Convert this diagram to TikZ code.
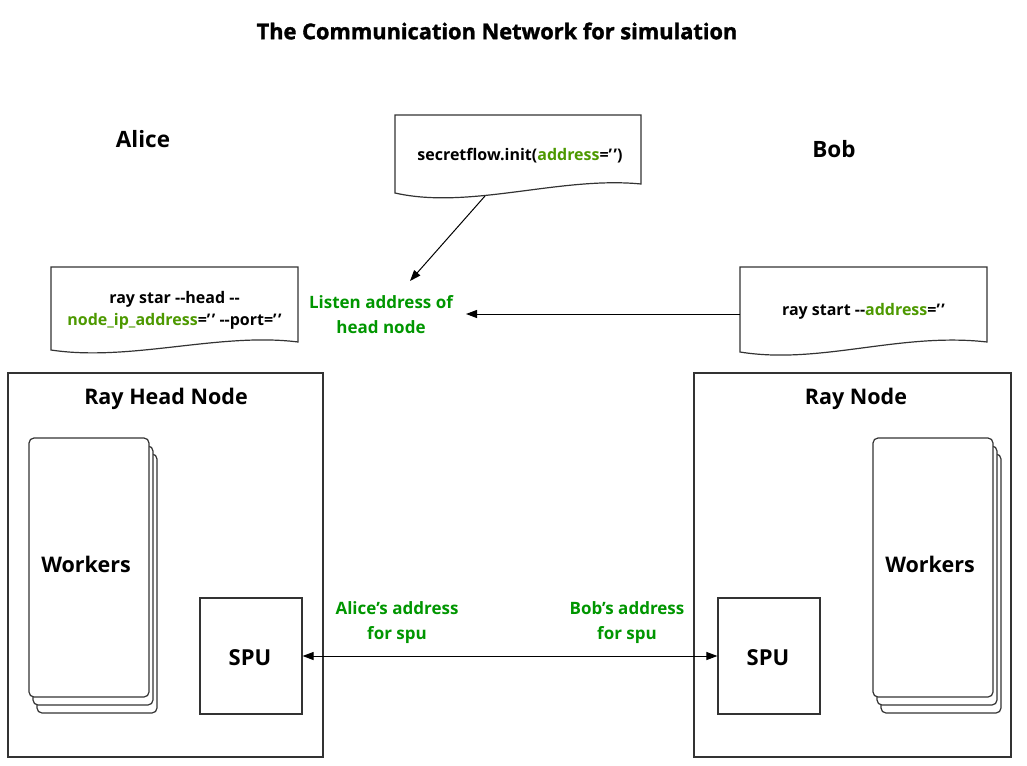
\documentclass[tikz,border=0pt]{standalone}
\usepackage{fontspec}
\setmainfont{Open Sans}
\newfontfamily\titlefont{Open Sans}[BoldFeatures={FakeBold=1.5}]
\usetikzlibrary{arrows.meta,calc}
\definecolor{lblgreen}{RGB}{0,150,0}
\definecolor{codegreen}{RGB}{77,153,0}
\definecolor{linegray}{RGB}{51,51,51}
\newcommand\dd{-\kern0pt-}
\newcommand\qq{\char"2019\kern1.5pt\char"2019}
\tikzset{
  box/.style={draw=linegray, line width=1.2pt, fill=white, inner sep=0pt},
  lbl/.style={font=\bfseries\fontsize{21.5}{25}\selectfont, text=black, inner sep=0pt},
  code/.style={font=\bfseries\fontsize{16}{22}\selectfont, align=center, inner sep=0pt},
  glabel/.style={font=\bfseries\fontsize{17}{25}\selectfont, text=lblgreen, align=center, inner sep=0pt},
  doc/.style={draw=linegray, line width=1.2pt, fill=white},
  conn/.style={draw=black, line width=1pt, -{Triangle[length=11pt,width=8pt]}},
  worker/.style={box, rounded corners=5pt, minimum width=120pt, minimum height=259pt},
  spubox/.style={box, minimum width=102pt, minimum height=116pt},
  bigbox/.style={box, fill=none, minimum height=384pt},
}
\begin{document}
\begin{tikzpicture}[x=1pt,y=-1pt]
\useasboundingbox (0,0) rectangle (1027,765);

% title and party names
\node[lbl, font=\titlefont\bfseries\fontsize{21.8}{26}\selectfont] (title) at (497,31) {The Communication Network for simulation};
\node[lbl, font=\bfseries\fontsize{22.5}{26}\selectfont] (alice) at (143,139) {Alice};
\node[lbl, font=\bfseries\fontsize{22.5}{26}\selectfont] (bob) at (834,149) {Bob};

% big boxes
\node[bigbox, minimum width=315pt] (headbox) at (165.5,565) {};
\node[lbl] (headlbl) at (166,398.5) {Ray Head Node};
\node[bigbox, minimum width=317pt] (raybox) at (852.5,565) {};
\node[lbl] (raylbl) at (856,398.5) {Ray Node};

% workers left
\node[worker] (wA3) at (97,583.5) {};
\node[worker] (wA2) at (93,575.5) {};
\node[worker] (wA) at (89,567.5) {};
\node[lbl] (wAlbl) at (86,564) {Workers};
% workers right
\node[worker] (wB3) at (941,583.5) {};
\node[worker] (wB2) at (937,575.5) {};
\node[worker] (wB) at (933,567.5) {};
\node[lbl] (wBlbl) at (930,564) {Workers};

% SPUs
\node[spubox] (spuA) at (251,656) {};
\node[spubox] (spuB) at (769,656) {};
\node[lbl, font=\bfseries\fontsize{22}{26}\selectfont] (spuAlbl) at (250,658) {SPU};
\node[lbl, font=\bfseries\fontsize{22}{26}\selectfont] (spuBlbl) at (768,658) {SPU};

% documents
\draw[doc] (395,115) -- (641,115) -- (641,184) .. controls (560,176) and (470,210) .. (395,193) -- cycle;
\node[code] (initdoc) at (520,156) {secretflow.init(\textcolor{codegreen}{address}=\qq)};

\draw[doc] (51,267) -- (298,267) -- (298,342) .. controls (220,332) and (130,362) .. (51,350) -- cycle;
\node[code] (headdoc) at (174.5,310) {ray star \dd head \dd\\\textcolor{codegreen}{node\_ip\_address}=\qq{} \dd port=\qq};

\draw[doc] (740,267) -- (987,267) -- (987,342) .. controls (900,332) and (820,365) .. (740,352) -- cycle;
\node[code] (raydoc) at (863.5,311) {ray start \dd\textcolor{codegreen}{address}=\qq};

% green labels
\node[glabel] (listen) at (381,315) {Listen address of\\head node};
\node[glabel] (aliceaddr) at (397,623) {Alice\char"2019s address\\for spu};
\node[glabel] (bobaddr) at (627,623) {Bob\char"2019s address\\for spu};

% connectors
\coordinate (initout) at (485,196);
\coordinate (listentop) at (410,281);
\coordinate (rayout) at (740,314);
\coordinate (listenright) at (466,314);
\draw[conn] (initout) -- (listentop);
\draw[conn] (rayout) -- (listenright);
\draw[conn, {Triangle[length=11pt,width=8pt]}-{Triangle[length=11pt,width=8pt]}] (spuA.east) -- (spuB.west);
\end{tikzpicture}
\end{document}
